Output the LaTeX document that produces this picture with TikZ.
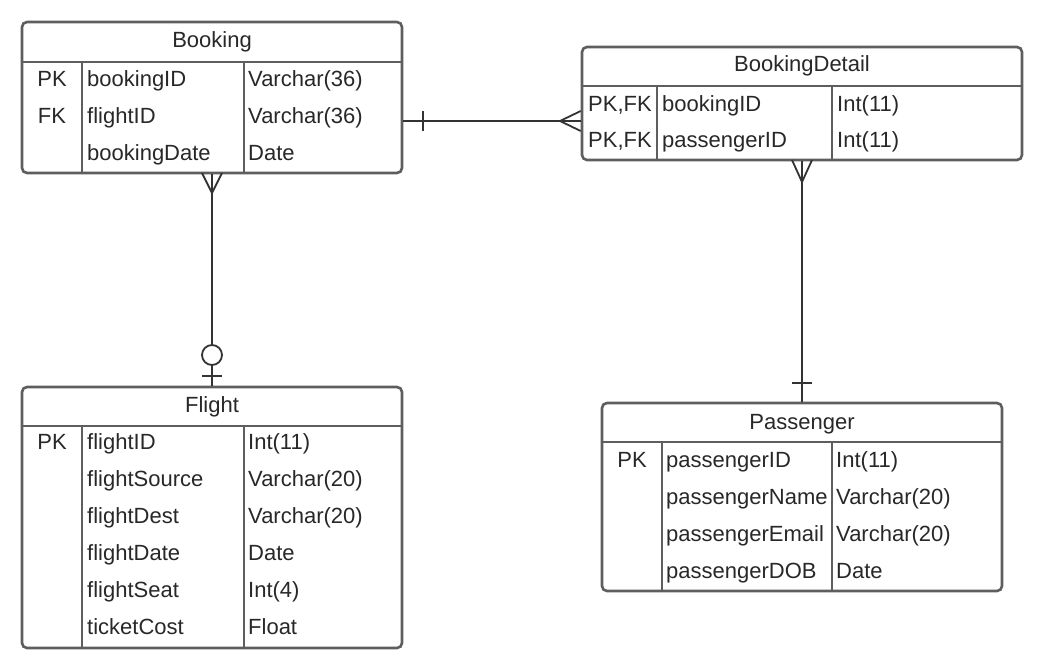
\documentclass[tikz,border=0pt]{standalone}
\usepackage{fontspec}
\setmainfont{Liberation Sans}
\usetikzlibrary{positioning}
\definecolor{boxline}{RGB}{94,94,94}
\definecolor{relline}{RGB}{51,51,51}
\definecolor{txt}{RGB}{40,40,40}
\tikzset{
    tablebox/.style={draw=boxline, line width=2.6pt, rounded corners=5pt, inner sep=0pt, fill=white},
    rule/.style={draw=boxline, line width=2.6pt},
    relation/.style={draw=relline, line width=1.8pt},
    cell/.style={inner sep=0pt, text height=15.7pt, text depth=0pt, text=txt, font=\fontsize{22}{26}\selectfont},
    fieldcell/.style={cell, anchor=west},
}

\begin{document}
\begin{tikzpicture}[x=1pt, y=-1pt]
        \useasboundingbox (0,0) rectangle (1043,669);
        % Booking
        \node[tablebox, minimum width=380pt, minimum height=151pt] (booking) at (212,97.5) {};
        \node[cell] (booking-title) at (212,40) {Booking};
        \draw[rule] (booking.west |- 0,62) -- (booking.east |- 0,62);
        \draw[rule] (82,62) -- (82,62 |- booking.south);
        \draw[rule] (244,62) -- (244,62 |- booking.south);
        \foreach \k/\nm/\ty [count=\i] in {PK/bookingID/Varchar(36), FK/flightID/Varchar(36), /bookingDate/Date} {
            \node[cell] (booking-key-\i) at (52,{79+37*(\i-1)}) {\k};
            \node[fieldcell] (booking-name-\i) at (87,{79+37*(\i-1)}) {\nm};
            \node[fieldcell] (booking-type-\i) at (248,{79+37*(\i-1)}) {\ty};
        }
        % BookingDetail
        \node[tablebox, minimum width=440pt, minimum height=113pt] (detail) at (802,103.5) {};
        \node[cell] (detail-title) at (802,64) {BookingDetail};
        \draw[rule] (detail.west |- 0,86) -- (detail.east |- 0,86);
        \draw[rule] (657,86) -- (657,86 |- detail.south);
        \draw[rule] (832,86) -- (832,86 |- detail.south);
        \foreach \k/\nm/\ty [count=\i] in {{PK,FK}/bookingID/Int(11), {PK,FK}/passengerID/Int(11)} {
            \node[cell] (detail-key-\i) at (620,{104+36*(\i-1)}) {\k};
            \node[fieldcell] (detail-name-\i) at (662,{104+36*(\i-1)}) {\nm};
            \node[fieldcell] (detail-type-\i) at (837,{104+36*(\i-1)}) {\ty};
        }
        % Flight
        \node[tablebox, minimum width=380pt, minimum height=261pt] (flight) at (212,517.5) {};
        \node[cell] (flight-title) at (212,405) {Flight};
        \draw[rule] (flight.west |- 0,426) -- (flight.east |- 0,426);
        \draw[rule] (82,426) -- (82,426 |- flight.south);
        \draw[rule] (244,426) -- (244,426 |- flight.south);
        \node[cell] (flight-key-1) at (52,442) {PK};
        \foreach \nm/\ty [count=\i] in {flightID/Int(11), flightSource/Varchar(20), flightDest/Varchar(20), flightDate/Date, flightSeat/Int(4), ticketCost/Float} {
            \node[fieldcell] (flight-name-\i) at (87,{442+37*(\i-1)}) {\nm};
            \node[fieldcell] (flight-type-\i) at (248,{442+37*(\i-1)}) {\ty};
        }
        % Passenger
        \node[tablebox, minimum width=400pt, minimum height=188pt] (passenger) at (802,497) {};
        \node[cell] (passenger-title) at (802,422) {Passenger};
        \draw[rule] (passenger.west |- 0,442) -- (passenger.east |- 0,442);
        \draw[rule] (662,442) -- (662,442 |- passenger.south);
        \draw[rule] (832,442) -- (832,442 |- passenger.south);
        \node[cell] (passenger-key-1) at (632,460) {PK};
        \foreach \nm/\ty [count=\i] in {passengerID/Int(11), passengerName/Varchar(20), passengerEmail/Varchar(20), passengerDOB/Date} {
            \node[fieldcell] (passenger-name-\i) at (666,{460+37*(\i-1)}) {\nm};
            \node[fieldcell] (passenger-type-\i) at (836,{460+37*(\i-1)}) {\ty};
        }
        % Booking -- BookingDetail
        \coordinate (bd-link) at (0,121);
        \draw[relation] (booking.east |- bd-link) -- (detail.west |- bd-link);
        \draw[relation] (423,111) -- (423,131);
        \draw[relation] (detail.west |- 0,111) -- (560,121) -- (detail.west |- 0,131);
        % Booking -- Flight
        \coordinate (bf-link) at (212,0);
        \draw[relation] (booking.south -| bf-link) -- (flight.north -| bf-link);
        \draw[relation] (202,173) -- (212,193) -- (222,173);
        \draw[relation, fill=white] (212,355) circle (10pt);
        \draw[relation] (202,376) -- (222,376);
        % BookingDetail -- Passenger
        \coordinate (dp-link) at (802,0);
        \draw[relation] (detail.south -| dp-link) -- (passenger.north -| dp-link);
        \draw[relation] (792,160) -- (802,182) -- (812,160);
        \draw[relation] (792,383) -- (812,383);
    \end{tikzpicture}
\end{document}
